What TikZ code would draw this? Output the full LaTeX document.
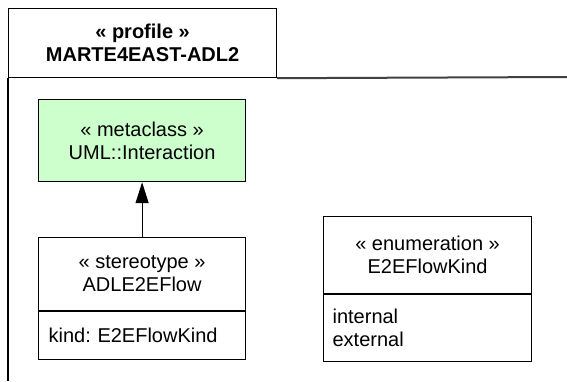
\documentclass[tikz,border=0pt]{standalone}
\usepackage{fontspec}
\setmainfont{Liberation Sans}
\usetikzlibrary{arrows.meta,positioning}
\definecolor{metagreen}{HTML}{CCFFCC}
\frenchspacing

\begin{document}
\begin{tikzpicture}[
  x=0.5pt, y=-0.5pt,
  box/.style={draw, rectangle, line width=0.6pt,
              minimum width=103.5pt, inner sep=0pt,
              font=\fontsize{10}{11.5}\selectfont, align=center},
  attr/.style={box, align=left, text width=93.5pt, inner xsep=5pt},
  ext/.style={-{Triangle[length=10.5pt,width=6.5pt]}, line width=0.6pt},
  node distance=0pt
]
  \useasboundingbox (0,0) rectangle (567,381);

  %% Package tab and frame
  \node[box, anchor=north west, minimum width=134pt, minimum height=34.5pt,
        font=\fontsize{10}{11.5}\selectfont\bfseries] (profile) at (8,8)
    {« profile »\\MARTE4EAST-ADL2};
  \coordinate (framebot) at (8,381);
  \coordinate (frameend) at (567,77);
  \draw[line width=0.75pt] (profile.south west) -- (framebot);
  \draw[darkgray, line width=1pt] (profile.south east) -- (frameend);

  %% Metaclass
  \node[box, fill=metagreen, anchor=north west, minimum height=41pt] (meta) at (38,99)
    {« metaclass »\\UML::Interaction};

  %% Stereotype
  \node[box, anchor=north west, minimum height=36.5pt] (stereo) at (38,237)
    {« stereotype »\\ADLE2EFlow};
  \node[attr, below=of stereo, minimum height=24pt] (stereoattr)
    {kind: E2EFlowKind};

  %% Enumeration
  \node[box, anchor=north west, minimum width=104pt, minimum height=38.5pt] (enum) at (323,216)
    {« enumeration »\\E2EFlowKind};
  \node[attr, below=of enum, text width=95pt, inner xsep=4.5pt, minimum height=33.5pt] (enumlits)
    {internal\\external};

  %% Extension
  \draw[ext] (stereo.north) -- (meta.south);
\end{tikzpicture}
\end{document}
